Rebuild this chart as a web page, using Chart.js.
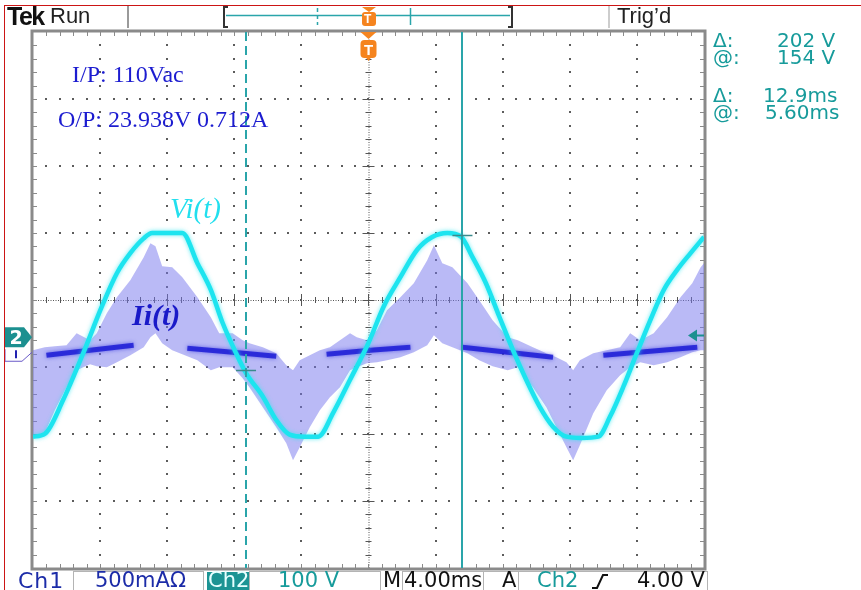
<!DOCTYPE html>
<html>
<head>
<meta charset="utf-8">
<script src="https://cdn.jsdelivr.net/npm/chart.js@4/dist/chart.umd.min.js"></script>
<style>
  body { margin: 0; background: #fff; }
  #wrap { position: relative; width: 861px; height: 590px; overflow: hidden; }
  #scope { position: absolute; left: 0; top: 0; }
  #deco { position: absolute; left: 0; top: 0; }
  .t { position: absolute; white-space: nowrap; line-height: 1; }
  .sans { font-family: "DejaVu Sans", sans-serif; }
  .lib { font-family: "Liberation Sans", Arial, sans-serif; }
  .serif { font-family: "Liberation Serif", "Times New Roman", serif; }
  .teal { color: #179b9b; }
  .note { color: #1c1cd0; font-size: 24px; }
  .read { font-size: 20px; }
  .bot { font-size: 21px; top: 570px; }
  .box { position: absolute; top: 571px; height: 22px; border: 1px solid #b4b4b4; box-sizing: border-box; }
</style>
</head>
<body>
<div id="wrap">
  <canvas id="scope" width="861" height="590"></canvas>

  <svg id="deco" width="861" height="590">
    <!-- record view bar -->
    <path d="M228,7 L224,7 L224,27 L228,27" fill="none" stroke="#333" stroke-width="2"/>
    <path d="M508,7 L512,7 L512,27 L508,27" fill="none" stroke="#333" stroke-width="2"/>
    <line x1="226" y1="15.5" x2="510" y2="15.5" stroke="#2aa5aa" stroke-width="1.5"/>
    <line x1="317.5" y1="8" x2="317.5" y2="25" stroke="#2aa5aa" stroke-width="1.5" stroke-dasharray="4 3"/>
    <line x1="410.5" y1="8" x2="410.5" y2="25" stroke="#2aa5aa" stroke-width="1.5"/>
    <path d="M362,7 L376,7 L369,12 Z" fill="#f5841f"/>
    <rect x="362" y="12" width="14" height="14" rx="3" fill="#f5841f"/>
    <line x1="128" y1="5" x2="128" y2="28" stroke="#9a9a9a" stroke-width="2"/>
    <line x1="609" y1="5" x2="609" y2="28" stroke="#bdbdbd" stroke-width="1.5"/>
    <!-- rising edge symbol -->
    <path d="M592,588 L597,588 L603,575 L608,575" fill="none" stroke="#111" stroke-width="2"/>
  </svg>

  <div style="position:absolute;left:4px;top:5px;width:856px;height:600px;border:1.5px solid #cc1515;border-bottom:none;"></div>

  <!-- top status -->
  <div class="t lib" style="left:7px;top:4px;font-size:25px;font-weight:bold;letter-spacing:-1.5px;color:#111;">Tek</div>
  <div class="t lib" style="left:50px;top:5px;font-size:22px;color:#222;">Run</div>
  <div class="t lib" style="left:617px;top:5px;font-size:22px;color:#222;">Trig’d</div>
  <div class="t lib" style="left:364px;top:13px;font-size:12px;font-weight:bold;color:#fff;">T</div>

  <!-- cursor readout -->
  <div class="t sans teal read" style="left:713px;top:30px;">Δ:</div>
  <div class="t sans teal read" style="left:777px;top:30px;">202 V</div>
  <div class="t sans teal read" style="left:713px;top:47px;">@:</div>
  <div class="t sans teal read" style="left:777px;top:47px;">154 V</div>
  <div class="t sans teal read" style="left:713px;top:85px;">Δ:</div>
  <div class="t sans teal read" style="left:763px;top:85px;">12.9ms</div>
  <div class="t sans teal read" style="left:713px;top:102px;">@:</div>
  <div class="t sans teal read" style="left:765px;top:102px;">5.60ms</div>

  <!-- annotations -->
  <div class="t serif note" style="left:72px;top:62px;">I/P: 110Vac</div>
  <div class="t serif note" style="left:58px;top:107px;">O/P: 23.938V 0.712A</div>
  <div class="t serif" style="left:170px;top:194px;font-size:29px;font-style:italic;color:#22dfee;">Vi(t)</div>
  <div class="t serif" style="left:132px;top:300px;font-size:30px;font-style:italic;font-weight:bold;color:#1a1ac8;">Ii(t)</div>

  <!-- bottom status -->
  <div class="box" style="left:73px;width:131px;"></div>
  <div class="box" style="left:249px;width:132px;"></div>
  <div class="box" style="left:402px;width:82px;"></div>
  <div class="box" style="left:483px;width:36px;"></div>
  <div class="box" style="left:518px;width:190px;"></div>
  <div style="position:absolute;left:207px;top:572px;width:42px;height:20px;background:#1c9494;"></div>
  <div class="t sans bot" style="left:18px;color:#1c2ca8;font-size:22px;letter-spacing:1px;">Ch1</div>
  <div class="t sans bot" style="left:95px;color:#1c2ca8;">500mAΩ</div>
  <div class="t sans bot" style="left:208px;color:#e6ffff;">Ch2</div>
  <div class="t sans bot teal" style="left:278px;">100 V</div>
  <div class="t sans bot" style="left:383px;color:#111;">M</div>
  <div class="t sans bot" style="left:404px;color:#111;">4.00ms</div>
  <div class="t sans bot" style="left:502px;color:#111;">A</div>
  <div class="t sans bot teal" style="left:537px;">Ch2</div>
  <div class="t sans bot" style="left:637px;color:#111;">4.00 V</div>
</div>

<script>
// screen setup: 10 x 8 divisions
const msPerDiv = 4;
const voltsPerDiv = 100;     // Ch2
const ampsPerDiv = 500;      // Ch1, mA
const ch2Offset = 0.57;      // divisions below centre
const ch1Offset = 0.78;

// Ch2: input voltage Vi(t), volts vs ms
const voltTime = [-20, -19.3, -18.2, -17.0, -15.9, -15.0, -14.2, -13.4, -12.9, -11.1, -10.2, -9.4, -8.7, -7.9, -7.3, -6.3, -5.5, -4.7, -3.8,
  -3.0, -2.1, -1.1, 0, 0.9, 1.9, 2.9, 3.8, 4.7, 5.5, 6.2, 7.0, 7.8, 8.6, 9.4, 10.2, 11.0, 11.8, 12.7, 13.7,
  14.4, 15.2, 16.0, 16.8, 17.6, 18.4, 19.2, 20];
const voltValue = [-147, -143, -92, -22, 47, 97, 127, 149, 157, 157, 112, 72, 23, -22, -52, -87, -122, -144, -147,
  -147, -111, -62, -7, 47, 91, 132, 151, 157, 152, 121, 82, 32, -17, -62, -102, -132, -147, -149, -147,
  -117, -72, -22, 27, 72, 102, 127, 151];

// Ch1: input current Ii(t), envelope of the switching ripple, mA vs ms
const curTime = [-20, -19.3, -18.7, -18.0, -17.4, -16.6, -16.2, -15.6, -15.0, -14.2, -13.4, -13.0, -12.7, -12.3, -11.7, -11.1,
  -10.2, -9.4, -8.9, -8.1, -7.5, -7.1, -6.3, -5.5, -4.9, -4.5, -4.1, -3.5, -2.9, -2.3, -1.7, -1.1, -0.7, -0.1,
  0.5, 1.1, 1.9, 2.7, 3.5, 3.9, 4.4, 5.0, 5.9, 6.6, 7.4, 8.3, 8.9, 9.8, 10.6, 11.2, 11.8, 12.2, 12.6, 13.4,
  14.2, 15.0, 15.6, 16.2, 17.0, 17.8, 18.6, 19.3, 19.8, 20];
const curUpper = [15, 37, 45, 52, 142, 90, 142, 291, 410, 537, 709, 813, 791, 642, 634, 560,
  410, 261, 142, 142, 90, 67, 37, -7, -97, -134, -60, -22, 15, 37, 90, 142, 112, 90,
  164, 313, 410, 515, 686, 798, 664, 634, 515, 388, 239, 112, 90, 37, -7, -37, -75, -134, -60, -7,
  15, 37, 142, 90, 142, 261, 410, 515, 634, 664];
const curLower = [-642, -604, -433, -261, -134, -90, -104, -112, -75, -22, 37, 112, 142, 67, 15, -15,
  -60, -134, -112, -112, -194, -261, -410, -560, -679, -806, -709, -560, -433, -336, -261, -134, -112, -82,
  -75, -60, -37, 0, 52, 127, 67, 37, -7, -60, -104, -134, -112, -261, -410, -560, -709, -806, -694, -455,
  -283, -172, -112, -75, -97, -75, -37, 0, 15, 15];
// dense average trace, visible where the ripple is small (null = gap)
const bandTime = [-19.2, -16.6, -14.0, -13.9, -10.8, -8.1, -5.5, -5.4, -2.5, 0.1, 2.5, 2.6, 5.6, 8.3, 11.0, 11.1, 14.0, 16.8, 19.6];
const bandCurrent = [-22, 15, 52, null, 30, 0, -30, null, -15, 15, 37, null, 37, 0, -37, null, -22, 7, 37];

// cursors (time, voltage) and trigger level
const cursorTime = [-7.3, 5.6];
const cursorVolt = [-48, 154];
const trigLevel = 4;

const pts = (xs, ys) => xs.map((x, i) => ({ x: x, y: ys[i] }));

const graticule = {
  id: 'graticule',
  beforeDatasetsDraw(chart) {
    const { ctx, chartArea: a } = chart;
    const dx = (a.right - a.left) / 10, dy = (a.bottom - a.top) / 8;
    const cx = a.left + 5 * dx, cy = a.top + 4 * dy;
    ctx.save();
    ctx.fillStyle = '#5c5c5c';
    for (let i = 1; i < 10; i++) {
      if (i === 5) continue;
      const x = Math.round(a.left + i * dx);
      for (let j = 1; j < 40; j++) ctx.fillRect(x - 1, Math.round(a.top + j * dy / 5) - 1, 2, 2);
    }
    for (let j = 1; j < 8; j++) {
      if (j === 4) continue;
      const y = Math.round(a.top + j * dy);
      for (let i = 1; i < 50; i++) ctx.fillRect(Math.round(a.left + i * dx / 5) - 1, y - 1, 2, 2);
    }
    // centre cross
    ctx.strokeStyle = '#555';
    ctx.lineWidth = 1;
    ctx.setLineDash([1, 1.5]);
    ctx.beginPath();
    ctx.moveTo(a.left, cy + 0.5); ctx.lineTo(a.right, cy + 0.5);
    ctx.moveTo(cx + 0.5, a.top); ctx.lineTo(cx + 0.5, a.bottom);
    ctx.stroke();
    ctx.setLineDash([]);
    ctx.beginPath();
    for (let i = 1; i < 50; i++) {
      const x = Math.round(a.left + i * dx / 5) + 0.5, h = i % 5 === 0 ? 6 : 3;
      ctx.moveTo(x, cy - h); ctx.lineTo(x, cy + h);
    }
    for (let j = 1; j < 40; j++) {
      const y = Math.round(a.top + j * dy / 5) + 0.5, h = j % 5 === 0 ? 6 : 3;
      ctx.moveTo(cx - h, y); ctx.lineTo(cx + h, y);
    }
    ctx.stroke();
    // frame with minor ticks
    ctx.strokeStyle = '#8a8a8a';
    ctx.beginPath();
    for (let i = 1; i < 50; i++) {
      const x = Math.round(a.left + i * dx / 5) + 0.5;
      ctx.moveTo(x, a.top); ctx.lineTo(x, a.top + 4);
      ctx.moveTo(x, a.bottom); ctx.lineTo(x, a.bottom - 4);
    }
    for (let j = 1; j < 40; j++) {
      const y = Math.round(a.top + j * dy / 5) + 0.5;
      ctx.moveTo(a.left, y); ctx.lineTo(a.left + 4, y);
      ctx.moveTo(a.right, y); ctx.lineTo(a.right - 4, y);
    }
    ctx.stroke();
    ctx.lineWidth = 3;
    ctx.strokeRect(a.left - 1, a.top - 1, a.right - a.left + 2, a.bottom - a.top + 2);
    ctx.restore();
  }
};

// soft phosphor glow on the two traces
const glow = {
  id: 'glow',
  beforeDatasetDraw(chart, args) {
    const c = { 2: 'rgba(30,30,220,0.7)', 3: 'rgba(40,230,240,0.7)' }[args.index];
    if (!c) return;
    chart.ctx.save();
    chart.ctx.shadowColor = c;
    chart.ctx.shadowBlur = 4;
  },
  afterDatasetDraw(chart, args) {
    if (args.index === 2 || args.index === 3) chart.ctx.restore();
  }
};

const markers = {
  id: 'markers',
  afterDatasetsDraw(chart) {
    const { ctx, chartArea: a, scales } = chart;
    ctx.save();
    // cursors
    ctx.strokeStyle = '#2aa5aa';
    ctx.lineWidth = 2;
    cursorTime.forEach((t, i) => {
      const x = Math.round(scales.x.getPixelForValue(t));
      ctx.setLineDash(i === 0 ? [9, 5] : []);
      ctx.beginPath(); ctx.moveTo(x, a.top); ctx.lineTo(x, a.bottom); ctx.stroke();
    });
    ctx.setLineDash([]);
    ctx.strokeStyle = '#3a8a8c';
    ctx.lineWidth = 1.5;
    cursorTime.forEach((t, i) => {
      const x = scales.x.getPixelForValue(t), y = Math.round(scales.yV.getPixelForValue(cursorVolt[i])) + 0.5;
      ctx.beginPath(); ctx.moveTo(x - 10, y); ctx.lineTo(x + 10, y); ctx.stroke();
    });
    // trigger position marker
    const tx = scales.x.getPixelForValue(0);
    ctx.fillStyle = '#f5841f';
    ctx.beginPath(); ctx.moveTo(tx - 8, a.top); ctx.lineTo(tx + 8, a.top); ctx.lineTo(tx, a.top + 7); ctx.fill();
    ctx.beginPath(); ctx.roundRect(tx - 8, a.top + 8, 16, 18, 4); ctx.fill();
    ctx.beginPath(); ctx.moveTo(tx - 3, a.top + 25); ctx.lineTo(tx + 3, a.top + 25); ctx.lineTo(tx, a.top + 29); ctx.fill();
    ctx.fillStyle = '#fff';
    ctx.font = 'bold 15px "Liberation Sans"';
    ctx.textAlign = 'center';
    ctx.fillText('T', tx, a.top + 23);
    // channel ground markers
    const y2 = scales.yV.getPixelForValue(0);
    ctx.fillStyle = '#1c9090';
    ctx.beginPath();
    ctx.moveTo(5, y2 - 11); ctx.lineTo(24, y2 - 11); ctx.lineTo(32, y2 - 1); ctx.lineTo(24, y2 + 9); ctx.lineTo(5, y2 + 9);
    ctx.closePath(); ctx.fill();
    ctx.fillStyle = '#fff';
    ctx.font = 'bold 19px "DejaVu Sans"';
    ctx.fillText('2', 16, y2 + 6);
    const y1 = scales.yI.getPixelForValue(0);
    ctx.strokeStyle = '#6a5ac8';
    ctx.lineWidth = 1;
    ctx.beginPath();
    ctx.moveTo(5, y1 - 3); ctx.lineTo(5, y1 + 9); ctx.lineTo(22, y1 + 9); ctx.lineTo(32, y1);
    ctx.stroke();
    ctx.fillStyle = '#2222b0';
    ctx.fillRect(15, y1 - 2, 2, 8);
    // trigger level arrow
    const yt = scales.yV.getPixelForValue(trigLevel);
    ctx.fillStyle = '#1c9090';
    ctx.beginPath(); ctx.moveTo(688, yt); ctx.lineTo(697, yt - 6); ctx.lineTo(697, yt + 6); ctx.fill();
    ctx.fillRect(696, yt - 1, 8, 2);
    ctx.restore();
  }
};

new Chart(document.getElementById('scope'), {
  type: 'line',
  data: {
    datasets: [
      { label: 'Ii low', data: pts(curTime, curLower), yAxisID: 'yI', borderWidth: 0, pointRadius: 0, fill: false, order: 3 },
      { label: 'Ii', data: pts(curTime, curUpper), yAxisID: 'yI', borderWidth: 0, pointRadius: 0,
        fill: '-1', backgroundColor: 'rgba(118,118,238,0.5)', order: 2 },
      { label: 'Ii avg', data: pts(bandTime, bandCurrent), yAxisID: 'yI', borderColor: 'rgba(22,22,212,0.8)',
        borderWidth: 5, pointRadius: 0, spanGaps: false, fill: false, order: 1 },
      { label: 'Vi', data: pts(voltTime, voltValue), yAxisID: 'yV', borderColor: '#1de4ef', borderWidth: 4.5,
        pointRadius: 0, fill: false, cubicInterpolationMode: 'monotone', order: 0 }
    ]
  },
  options: {
    responsive: false,
    animation: false,
    layout: { padding: { left: 33, top: 32, right: 157, bottom: 22 } },
    plugins: { legend: { display: false }, tooltip: { enabled: false } },
    scales: {
      x: { type: 'linear', display: false, min: -5 * msPerDiv, max: 5 * msPerDiv },
      yV: { display: false, min: -(4 - ch2Offset) * voltsPerDiv, max: (4 + ch2Offset) * voltsPerDiv },
      yI: { display: false, min: -(4 - ch1Offset) * ampsPerDiv, max: (4 + ch1Offset) * ampsPerDiv }
    }
  },
  plugins: [graticule, glow, markers]
});
</script>
</body>
</html>
